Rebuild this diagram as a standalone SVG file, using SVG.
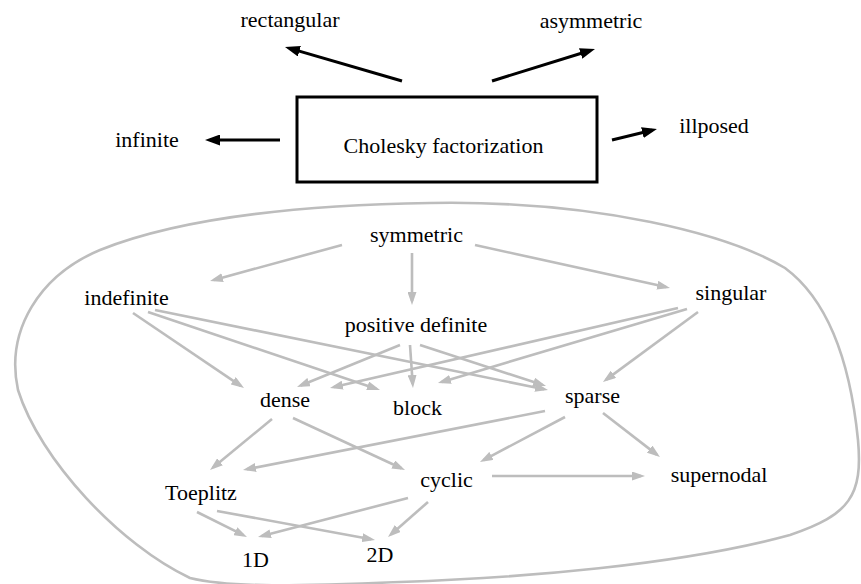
<svg xmlns="http://www.w3.org/2000/svg" width="861" height="584" viewBox="0 0 861 584">
<style>
text{font-family:"Liberation Serif","Times New Roman",serif;font-size:22px;fill:#000;text-anchor:middle}
.g{stroke:#bdbdbd;stroke-width:2.6;fill:none}
.k{stroke:#000;stroke-width:3;fill:none}
</style>
<defs>
<marker id="ag" markerUnits="userSpaceOnUse" markerWidth="13" markerHeight="9" refX="9" refY="4.5" orient="auto" viewBox="0 0 13 9"><path d="M0,0 L13,4.5 L0,9 Z" fill="#bdbdbd"/></marker>
<marker id="ak" markerUnits="userSpaceOnUse" markerWidth="15" markerHeight="11" refX="10" refY="5.5" orient="auto" viewBox="0 0 15 11"><path d="M0,0 L15,5.5 L0,11 Z" fill="#000"/></marker>
</defs>
<rect width="861" height="584" fill="#fff"/>
<g id="region">
<path class="g" d="M430,203 C600,200 730,235 785,268 C835,305 852,380 858,440 C863,495 850,515 790,535 C680,565 520,578 400,582 C300,586 230,588 190,578 C120,545 40,460 18,390 C5,330 40,275 100,250 C180,218 300,205 430,203 Z"/>
</g>
<g id="connectors">
<g class="k" marker-end="url(#ak)">
<line x1="402" y1="81" x2="289.8" y2="48.4"/>
<line x1="492" y1="81" x2="590.2" y2="50.5"/>
<line x1="280" y1="140" x2="210" y2="140"/>
<line x1="612" y1="140" x2="652.1" y2="130.2"/>
</g>
<g class="g" marker-end="url(#ag)">
<line x1="342" y1="245" x2="213.9" y2="279.9"/>
<line x1="412" y1="253" x2="412" y2="301"/>
<line x1="475" y1="245" x2="666.1" y2="287.1"/>
<line x1="133" y1="313" x2="240.7" y2="385.8"/>
<line x1="148" y1="312" x2="376.2" y2="388.7"/>
<line x1="155" y1="310" x2="544.1" y2="389.2"/>
<line x1="400" y1="345" x2="300.7" y2="385.5"/>
<line x1="410" y1="345" x2="412.7" y2="384"/>
<line x1="420" y1="345" x2="542.2" y2="384.8"/>
<line x1="678" y1="308" x2="333.9" y2="387.1"/>
<line x1="687" y1="309" x2="441.8" y2="381.9"/>
<line x1="698" y1="312" x2="606.2" y2="379.6"/>
<line x1="272" y1="419" x2="213.1" y2="467.5"/>
<line x1="293" y1="418" x2="401.4" y2="468.3"/>
<line x1="545" y1="411" x2="246.9" y2="469.2"/>
<line x1="565" y1="417" x2="483.5" y2="460.1"/>
<line x1="603" y1="413" x2="656.8" y2="454.6"/>
<line x1="492" y1="476" x2="641" y2="476"/>
<line x1="197" y1="512" x2="243.4" y2="535.2"/>
<line x1="217" y1="511" x2="371.1" y2="539.3"/>
<line x1="408" y1="498" x2="261.9" y2="536"/>
<line x1="428" y1="502" x2="391" y2="534.4"/>
</g>
</g>
<g id="cholesky"><rect x="297" y="97" width="300" height="85" fill="none" stroke="#000" stroke-width="3"/><text x="443.5" y="153">Cholesky factorization</text></g>
<g id="rectangular"><text x="290" y="27">rectangular</text></g>
<g id="asymmetric"><text x="591" y="28">asymmetric</text></g>
<g id="infinite"><text x="147" y="147">infinite</text></g>
<g id="illposed"><text x="714" y="133">illposed</text></g>
<g id="symmetric"><text x="416.5" y="242">symmetric</text></g>
<g id="indefinite"><text x="126.5" y="305">indefinite</text></g>
<g id="positive-definite"><text x="416" y="332">positive definite</text></g>
<g id="singular"><text x="731" y="300">singular</text></g>
<g id="dense"><text x="285" y="407">dense</text></g>
<g id="block"><text x="417.5" y="415">block</text></g>
<g id="sparse"><text x="592.5" y="403">sparse</text></g>
<g id="toeplitz"><text x="201" y="500">Toeplitz</text></g>
<g id="cyclic"><text x="446.5" y="487">cyclic</text></g>
<g id="supernodal"><text x="719" y="482">supernodal</text></g>
<g id="d1"><text x="255.5" y="567">1D</text></g>
<g id="d2"><text x="380" y="562">2D</text></g>
</svg>
